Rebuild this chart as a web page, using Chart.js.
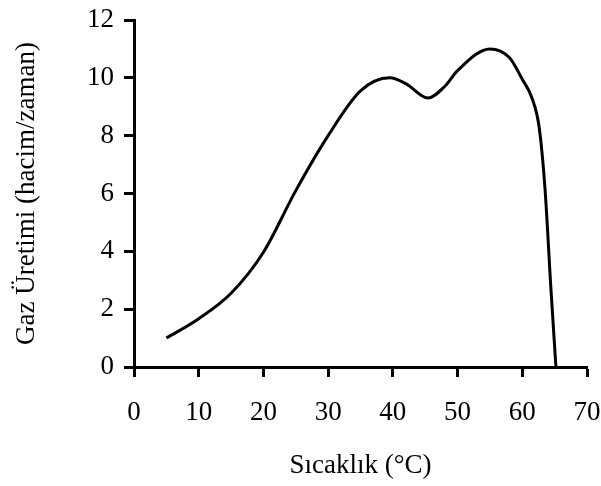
<!DOCTYPE html>
<html>
<head>
<meta charset="utf-8">
<script src="https://cdn.jsdelivr.net/npm/chart.js@4.4.1/dist/chart.umd.min.js"></script>
<style>
  html, body { margin: 0; padding: 0; background: #fff; }
  #wrap { width: 601px; height: 486px; }
</style>
</head>
<body>
<div id="wrap"><canvas id="myChart" width="601" height="486"></canvas></div>
<script>
const temperatures = [5, 10, 15, 20, 25, 30, 35, 39.5, 42, 45.4, 48, 50, 55, 58, 60, 61.5, 62.6, 63.5, 64.4, 65.2];
const gasValues = [1.0, 1.67, 2.55, 3.97, 6.1, 8.0, 9.55, 10.0, 9.8, 9.3, 9.7, 10.25, 11.0, 10.7, 9.95, 9.3, 8.3, 6.2, 2.8, 0];
const xTicks = [0, 10, 20, 30, 40, 50, 60, 70];
const yTicks = [0, 2, 4, 6, 8, 10, 12];

const xTitle = "Sıcaklık (°C)";
const yTitle = "Gaz Üretimi (hacim/zaman)";

const points = temperatures.map((t, i) => ({ x: t, y: gasValues[i] }));

const serif = "'Liberation Serif', 'Times New Roman', serif";

const ctx = document.getElementById('myChart').getContext('2d');

const myLineChart = new Chart(ctx, {
  type: 'line',
  data: {
    datasets: [{
      data: points,
      borderColor: '#000',
      borderWidth: 3,
      pointRadius: 0,
      fill: false,
      cubicInterpolationMode: 'monotone'
    }]
  },
  options: {
    responsive: false,
    animation: false,
    layout: { padding: { top: 20, right: 14, bottom: 0, left: 0 } },
    plugins: { legend: { display: false }, tooltip: { enabled: false } },
    scales: {
      x: {
        type: 'linear',
        min: 0,
        max: 70,
        afterBuildTicks: (scale) => { scale.ticks = xTicks.map(v => ({ value: v })); },
        afterFit: (scale) => {
          scale.height = 119;
          scale.paddingLeft = 0;
          scale.paddingRight = 0;
        },
        border: { color: '#000', width: 3 },
        grid: { drawOnChartArea: false, tickLength: 10, tickWidth: 3, tickColor: '#000' },
        ticks: { color: '#000', padding: 20, maxRotation: 0, font: { family: serif, size: 27 } },
        title: { display: true, text: xTitle, color: '#000', padding: { top: 0, bottom: 4 }, font: { family: serif, size: 27 } }
      },
      y: {
        min: 0,
        max: 12,
        afterBuildTicks: (scale) => { scale.ticks = yTicks.map(v => ({ value: v })); },
        afterFit: (scale) => {
          scale.width = 134;
          scale.paddingTop = 0;
          scale.paddingBottom = 0;
        },
        border: { color: '#000', width: 3 },
        grid: { drawOnChartArea: false, tickLength: 10, tickWidth: 3, tickColor: '#000' },
        ticks: { color: '#000', padding: 10, font: { family: serif, size: 27 } },
        title: { display: true, text: yTitle, color: '#000', padding: { top: 11, bottom: 0 }, font: { family: serif, size: 27 } }
      }
    }
  }
});
</script>
</body>
</html>
